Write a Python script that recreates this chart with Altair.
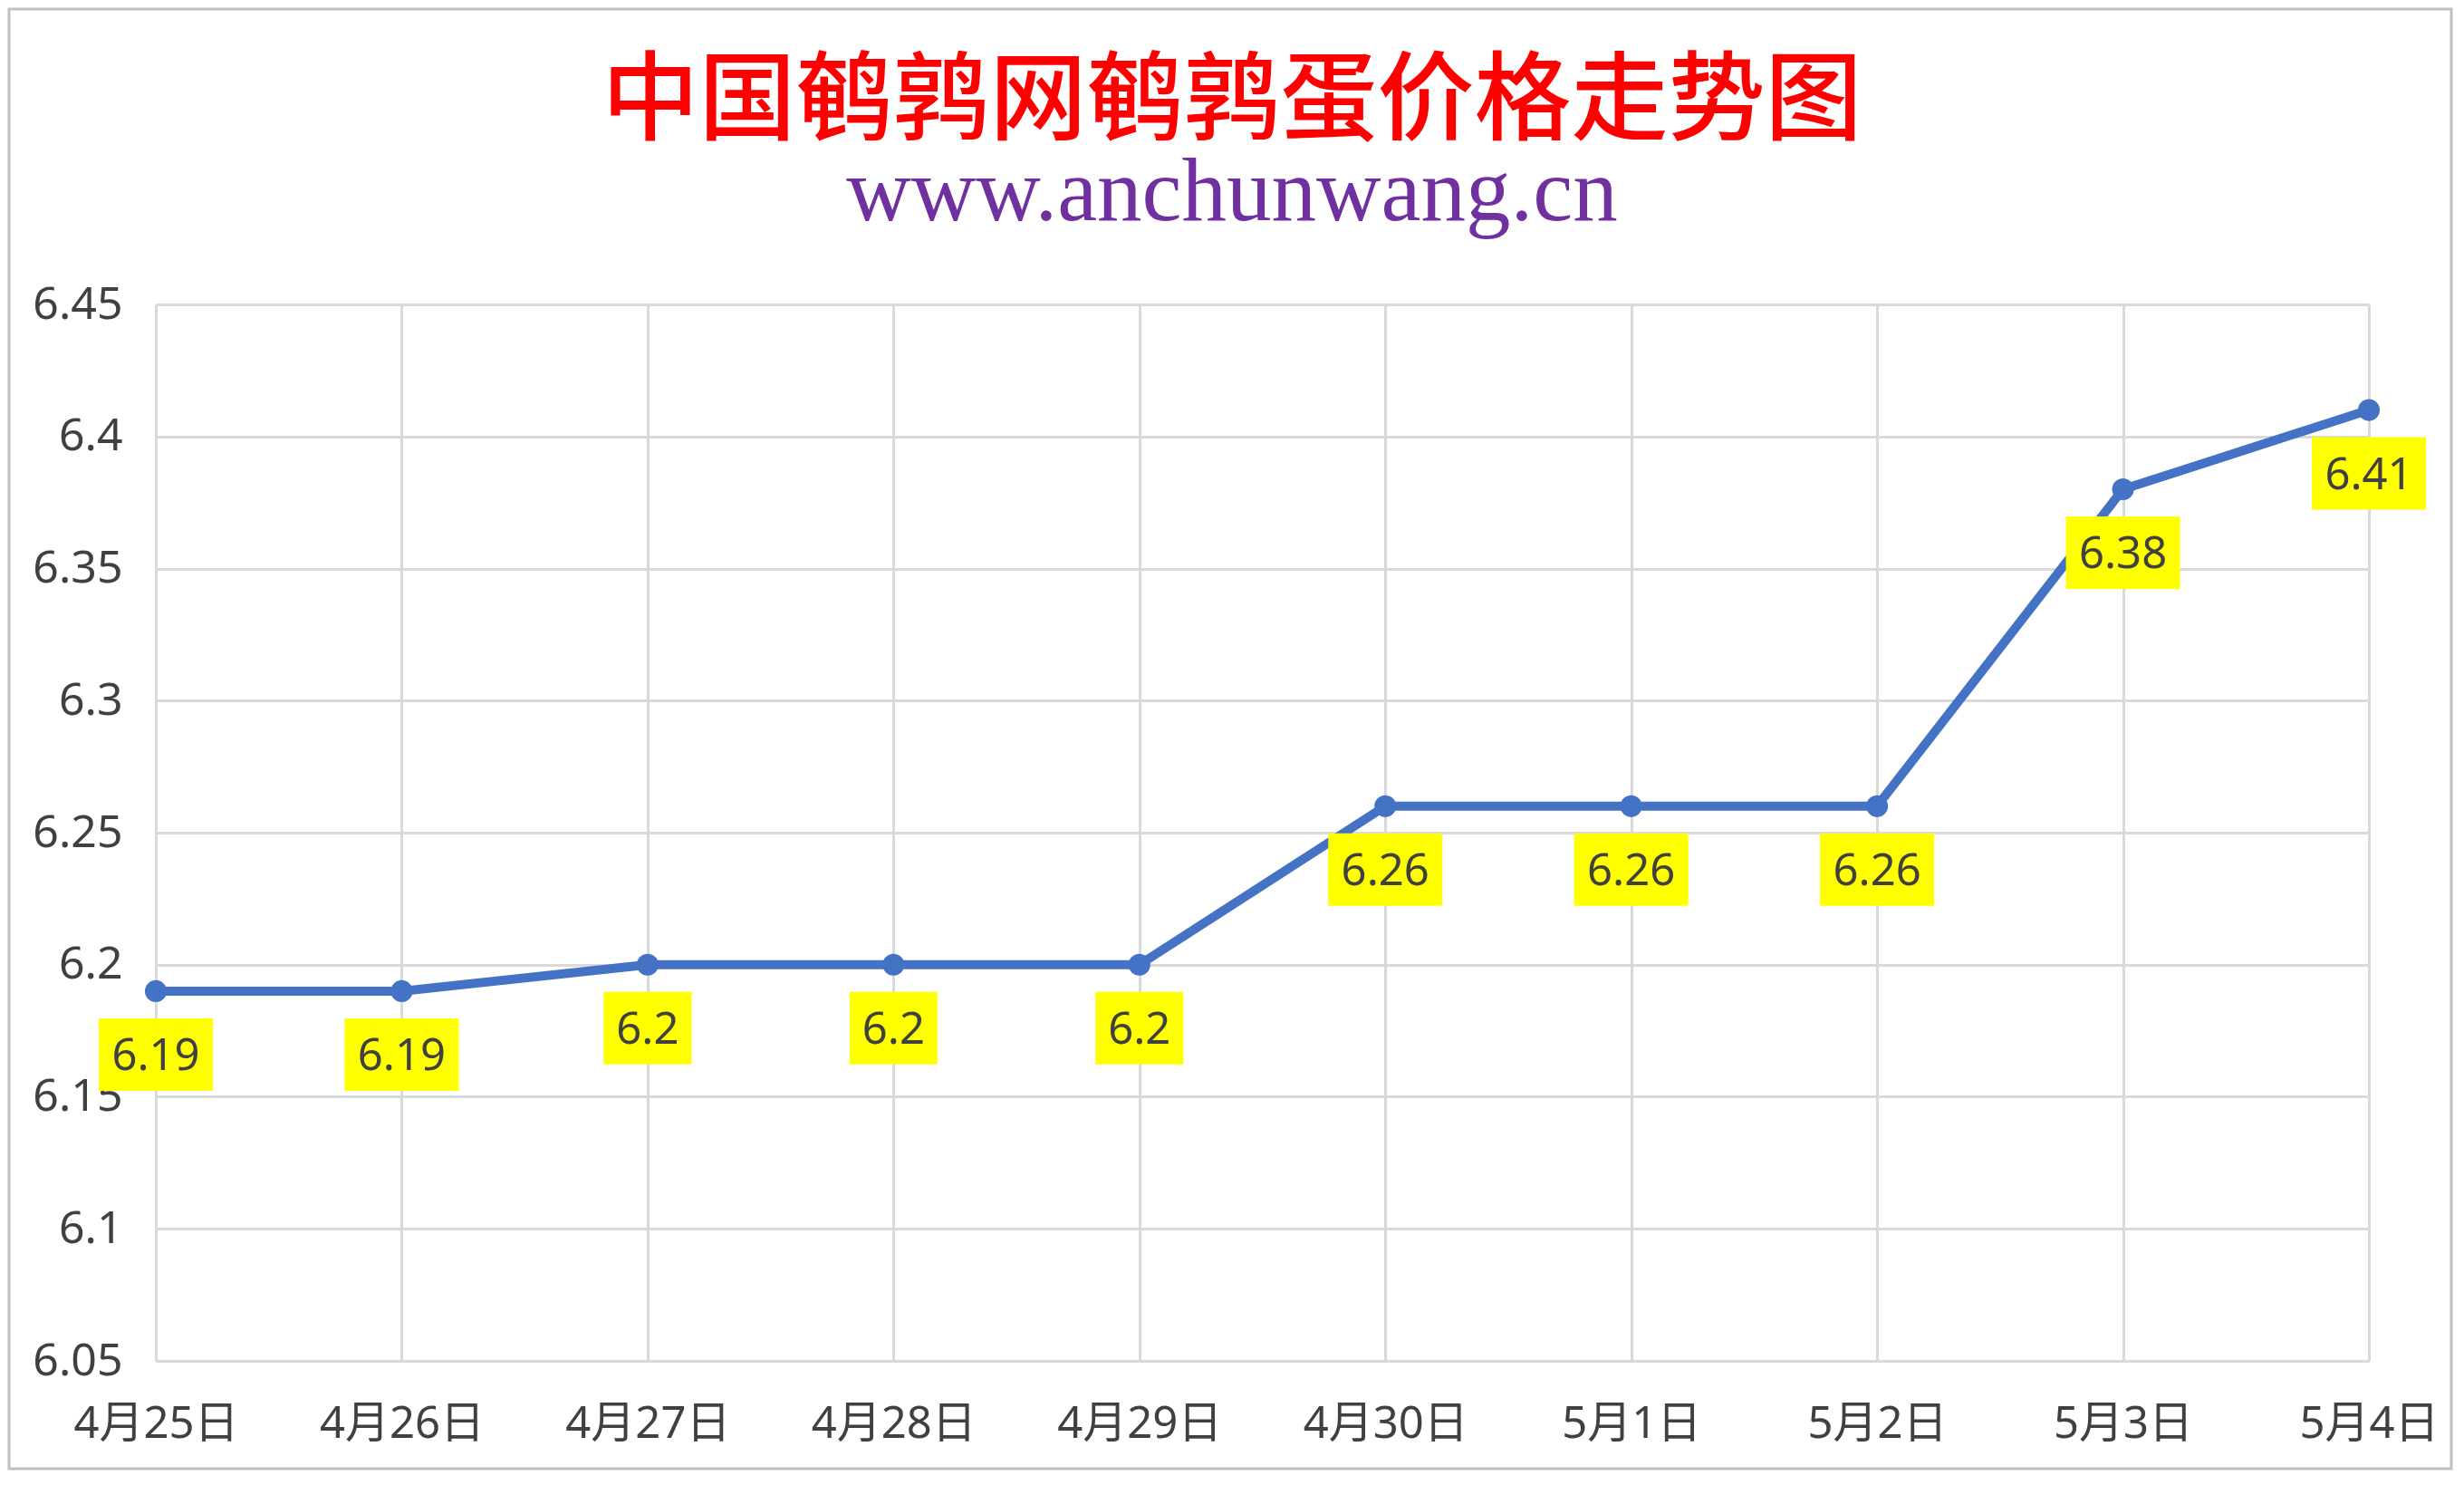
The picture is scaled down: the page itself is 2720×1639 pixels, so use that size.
import altair as alt
import pandas as pd

# ---- data ----
dates = ["4月25日", "4月26日", "4月27日", "4月28日", "4月29日",
         "4月30日", "5月1日", "5月2日", "5月3日", "5月4日"]
prices = [6.19, 6.19, 6.2, 6.2, 6.2, 6.26, 6.26, 6.26, 6.38, 6.41]
y_ticks = [6.05, 6.1, 6.15, 6.2, 6.25, 6.3, 6.35, 6.4, 6.45]
title_text = "中国鹌鹑网鹌鹑蛋价格走势图"
subtitle_text = "www.anchunwang.cn"

df = pd.DataFrame({"date": dates, "price": prices})

W, H = 2443, 1166
PAD = {"left": 164, "top": 328, "right": 93, "bottom": 121}
LINE_C = "#4472C4"
GRID_C = "#D9D9D9"
TXT_C = "#404040"
LF = "Noto Sans, Noto Sans CJK SC"

base = alt.Chart(df).encode(
    x=alt.X("date:N", sort=dates,
            scale=alt.Scale(type="point", padding=0),
            axis=alt.Axis(title=None, labelAngle=0, labelFont=LF, labelFontSize=49,
                          labelColor=TXT_C, labelPadding=45, ticks=False, tickSize=0,
                          domainColor=GRID_C, domainWidth=3, grid=True,
                          gridColor=GRID_C, gridWidth=3, labelFlush=False,
                          labelLimit=1000, labelOverlap=False)),
    y=alt.Y("price:Q",
            scale=alt.Scale(domain=[6.05, 6.45], nice=False, zero=False),
            axis=alt.Axis(title=None, values=y_ticks, format=".2~f", labelFont=LF,
                          labelFontSize=50, labelColor=TXT_C, labelPadding=37,
                          ticks=False, tickSize=0, domain=False, grid=True,
                          gridColor=GRID_C, gridWidth=3, labelFlush=False,
                          labelOverlap=False)),
)

line = base.mark_line(color=LINE_C, strokeWidth=10)
pts = base.mark_circle(color=LINE_C, size=580, opacity=1)

lab = base.transform_calculate(
    label="format(datum.price, '.2~f')",
    n="length(format(datum.price, '.2~f'))",
)
box4 = lab.transform_filter("datum.n > 3").mark_rect(
    color="#FFFF00", width=126, height=80, yOffset=70)
box3 = lab.transform_filter("datum.n <= 3").mark_rect(
    color="#FFFF00", width=97, height=80, yOffset=70)
txt = lab.mark_text(font=LF, fontSize=49, color=TXT_C, align="center",
                    baseline="middle", dy=72).encode(text="label:N")

one = alt.Data(values=[{"k": 0}])
border = alt.Chart(one).mark_rect(fillOpacity=0, stroke="#BFBFBF", strokeWidth=3).encode(
    x=alt.value(-162), x2=alt.value(W + PAD["right"] - 2),
    y=alt.value(-PAD["top"] + 2), y2=alt.value(H + PAD["bottom"] - 2))

title_mark = alt.Chart(one).mark_text(
    font="Noto Sans CJK SC", fontSize=107, fontWeight=500, color="#FF0000",
    align="center", baseline="alphabetic").encode(
    x=alt.value(1188), y=alt.value(-190), text=alt.value(title_text))

sub_mark = alt.Chart(one).mark_text(
    font="Liberation Serif", fontSize=99, color="#7030A0",
    align="center", baseline="alphabetic").encode(
    x=alt.value(1188), y=alt.value(-93), text=alt.value(subtitle_text))

chart = alt.layer(border, line, pts, box4, box3, txt, title_mark, sub_mark).properties(
    width=W, height=H, padding=PAD,
    autosize=alt.AutoSizeParams(type="none"),
    background="white",
).configure_view(stroke="transparent")

chart.save("out.html", embed_options={"renderer": "svg", "actions": False})
